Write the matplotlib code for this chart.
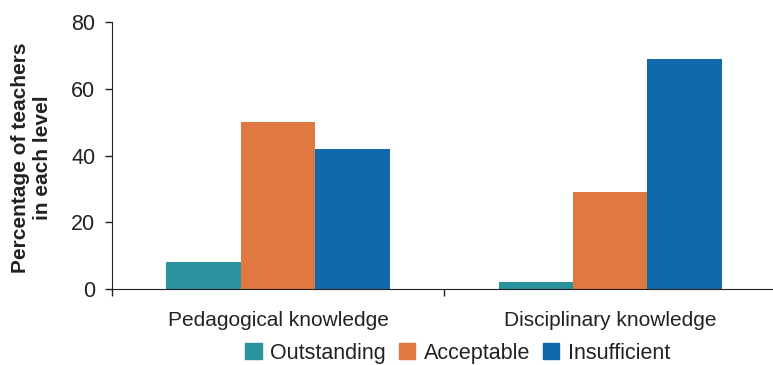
import numpy as np
import matplotlib.pyplot as plt
from matplotlib.patches import Patch

plt.rcParams['font.family'] = ['Liberation Sans', 'DejaVu Sans']

categories = ['Pedagogical knowledge', 'Disciplinary knowledge']
niveaux = ['Outstanding', 'Acceptable', 'Insufficient']
outstanding = [8, 2]
acceptable = [50, 29]
insufficient = [42, 69]
couleurs = ['#2a939e', '#e07841', '#0f69aa']

fig = plt.figure(figsize=(7.73, 3.65), dpi=100)
ax = fig.add_axes([0.1449, 0.2082, 0.8551, 0.7315])

x = np.arange(len(categories))
largeur = 0.224
for k, (vals, c) in enumerate(zip([outstanding, acceptable, insufficient], couleurs)):
    ax.bar(x + (k - 1) * largeur, vals, width=largeur, color=c, label=niveaux[k])

ax.set_xlim(-0.5, 1.49)
ax.set_ylim(0, 80)
ax.set_yticks([0, 20, 40, 60, 80])
ax.set_xticks(x)
ax.set_xticklabels(categories)
ax.set_xticks([-0.5, 0.5], minor=True)
ax.tick_params(axis='x', which='major', length=0, pad=16, labelsize=15, colors='#222222')
ax.tick_params(axis='x', which='minor', length=5, width=1, color='#222222')
ax.tick_params(axis='y', length=5, width=1, labelsize=15.5, colors='#222222', pad=7)
for s in ['top', 'right']:
    ax.spines[s].set_visible(False)
for s in ['left', 'bottom']:
    ax.spines[s].set_color('#222222')
ax.set_ylabel('Percentage of teachers\nin each level', fontsize=15, fontweight='bold',
              color='#222222', linespacing=1.2)
ax.yaxis.set_label_coords(-0.091, 0.49)

# legende en bas, un peu remontee pour ne pas couper le texte
poignees = [Patch(color=c) for c in couleurs]
fig.legend(poignees, niveaux, loc='lower center', bbox_to_anchor=(0.592, -0.05), ncol=3,
           frameon=False, fontsize=15.5, handlelength=0.75, handleheight=0.75,
           handletextpad=0.4, columnspacing=0.6, labelcolor='#222222')

fig.savefig('out.png', dpi=100)
